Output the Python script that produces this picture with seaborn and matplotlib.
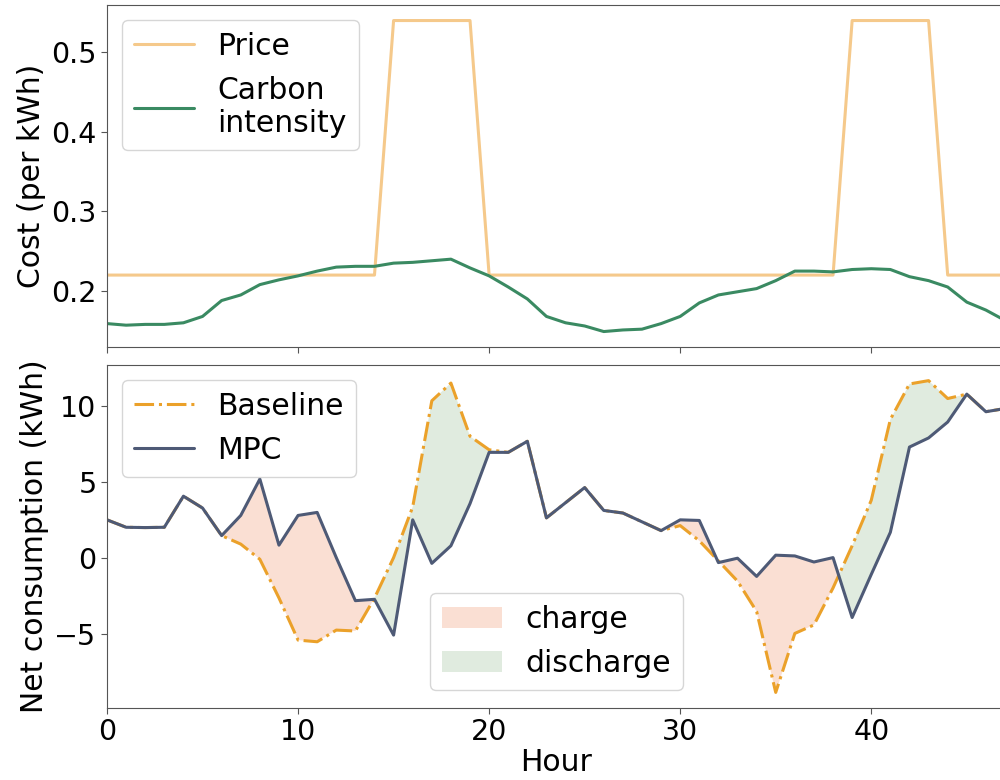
import numpy as np
import pandas as pd
import matplotlib
matplotlib.use("Agg")
import matplotlib.pyplot as plt
import seaborn as sns
from matplotlib.patches import Patch

hours = list(range(48))

price = [0.22] * 15 + [0.54] * 5 + [0.22] * 19 + [0.54] * 5 + [0.22] * 4

carbon = [0.159, 0.157, 0.158, 0.158, 0.160, 0.168, 0.188, 0.195, 0.208, 0.214,
          0.219, 0.225, 0.230, 0.231, 0.231, 0.235, 0.236, 0.238, 0.240, 0.229,
          0.219, 0.205, 0.190, 0.168, 0.160, 0.156, 0.149, 0.151, 0.152, 0.159,
          0.168, 0.185, 0.195, 0.199, 0.203, 0.213, 0.225, 0.225, 0.224, 0.227,
          0.228, 0.227, 0.218, 0.213, 0.205, 0.186, 0.176, 0.163]

mpc = [2.51, 2.02, 2.00, 2.02, 4.07, 3.29, 1.47, 2.80, 5.20, 0.84,
       2.80, 3.00, 0.02, -2.82, -2.73, -5.09, 2.51, -0.36, 0.80, 3.58,
       6.96, 6.96, 7.69, 2.64, 3.64, 4.64, 3.13, 2.96, 2.38, 1.80,
       2.51, 2.47, -0.31, -0.02, -1.22, 0.18, 0.13, -0.27, 0.02, -3.93,
       -1.09, 1.69, 7.31, 7.91, 8.96, 10.80, 9.64, 9.85]

baseline = [2.51, 2.02, 2.00, 2.02, 4.07, 3.29, 1.47, 0.91, -0.09, -2.64,
            -5.42, -5.53, -4.76, -4.82, -2.65, 0.02, 3.36, 10.36, 11.53, 8.02,
            7.13, 6.96, 7.69, 2.64, 3.64, 4.64, 3.13, 2.96, 2.38, 1.80,
            2.13, 1.13, -0.20, -1.53, -3.53, -8.87, -4.98, -4.42, -1.98, 0.80,
            3.80, 9.13, 11.47, 11.69, 10.51, 10.80, 9.64, 9.85]

df = pd.DataFrame({"Hour": hours, "Price": price, "Carbon": carbon,
                   "MPC": mpc, "Baseline": baseline})

sns.set_style("white")
plt.rcParams["font.family"] = ["DejaVu Sans"]
plt.rcParams["axes.edgecolor"] = "#555555"
plt.rcParams["text.color"] = "black"
plt.rcParams["axes.labelcolor"] = "black"
plt.rcParams["xtick.color"] = "black"
plt.rcParams["ytick.color"] = "black"

fig = plt.figure(figsize=(10, 7.8), dpi=100)
ax1 = fig.add_axes([0.107, 0.555, 0.898, 0.4386])
ax2 = fig.add_axes([0.107, 0.0923, 0.898, 0.4397], sharex=ax1)

c_price = "#f5c98b"
c_carbon = "#3a8a62"
c_base = "#eba12a"
c_mpc = "#4e5a76"
c_charge = "#fadfd3"
c_dis = "#e0ebdf"

LBL = 21.5
TCK = 20.5
LEG = 21.5

sns.lineplot(data=df, x="Hour", y="Price", ax=ax1, color=c_price, lw=2.2, label="Price")
sns.lineplot(data=df, x="Hour", y="Carbon", ax=ax1, color=c_carbon, lw=2.2,
             label="Carbon\nintensity")
ax1.set_ylabel("Cost (per kWh)", fontsize=LBL)
ax1.set_xlabel("")
ax1.tick_params(axis="x", labelbottom=False, bottom=True, length=4, color="#555555")
ax1.tick_params(axis="y", labelsize=TCK, left=True, length=4, color="#555555")
ax1.set_yticks([0.2, 0.3, 0.4, 0.5])
ax1.legend(loc="upper left", fontsize=LEG, handlelength=2.0)

h = np.array(hours, dtype=float)
b = np.array(baseline)
m = np.array(mpc)
ax2.fill_between(h, b, m, where=m >= b, interpolate=True, color=c_charge, lw=0)
ax2.fill_between(h, b, m, where=b >= m, interpolate=True, color=c_dis, lw=0)
sns.lineplot(data=df, x="Hour", y="Baseline", ax=ax2, color=c_base, lw=2.2,
             linestyle="-.", label="Baseline")
sns.lineplot(data=df, x="Hour", y="MPC", ax=ax2, color=c_mpc, lw=2.2, label="MPC")
ax2.set_xlim(0, 47)
ax2.set_ylabel("Net consumption (kWh)", fontsize=LBL)
ax2.set_xlabel("Hour", fontsize=LBL, labelpad=1)
ax2.tick_params(axis="both", labelsize=TCK, bottom=True, left=True, length=4, color="#555555")
ax2.set_yticks([-5, 0, 5, 10])
ax2.set_xticks([0, 10, 20, 30, 40])
leg1 = ax2.legend(loc="upper left", fontsize=LEG, handlelength=2.0)
ax2.add_artist(leg1)

handles = [Patch(facecolor=c_charge, edgecolor="none", label="charge"),
           Patch(facecolor=c_dis, edgecolor="none", label="discharge")]
ax2.legend(handles=handles, loc="lower left", bbox_to_anchor=(0.3597, 0.0525),
           borderaxespad=0, fontsize=LEG, handlelength=2.0)

fig.savefig("out.png", dpi=100)
